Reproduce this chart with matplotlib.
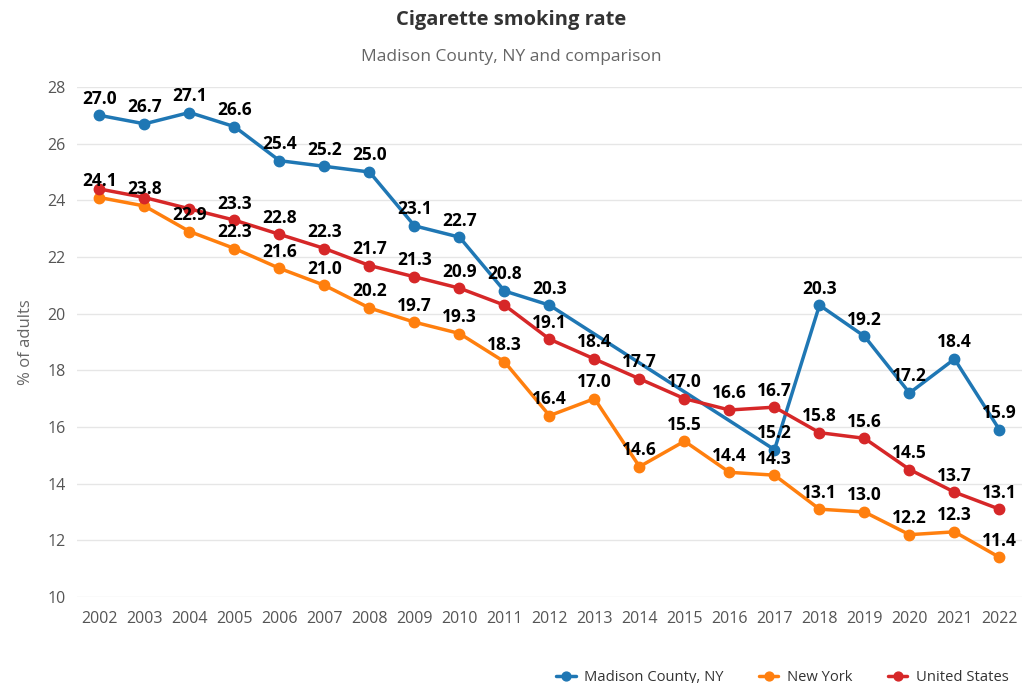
import numpy as np
import matplotlib.pyplot as plt

years = list(range(2002, 2023))
madison = [27.0, 26.7, 27.1, 26.6, 25.4, 25.2, 25.0, 23.1, 22.7, 20.8, 20.3,
           np.nan, np.nan, np.nan, np.nan, 15.2, 20.3, 19.2, 17.2, 18.4, 15.9]
new_york = [24.1, 23.8, 22.9, 22.3, 21.6, 21.0, 20.2, 19.7, 19.3, 18.3, 16.4,
            17.0, 14.6, 15.5, 14.4, 14.3, 13.1, 13.0, 12.2, 12.3, 11.4]
united_states = [24.4, 24.1, 23.7, 23.3, 22.8, 22.3, 21.7, 21.3, 20.9, 20.3, 19.1,
                 18.4, 17.7, 17.0, 16.6, 16.7, 15.8, 15.6, 14.5, 13.7, 13.1]

series = [
    ("Madison County, NY", madison, "#1f77b4"),
    ("New York", new_york, "#ff7f0e"),
    ("United States", united_states, "#d62728"),
]
# labels the original chart hides because they overlap others
hidden = {("United States", 2002), ("United States", 2003),
          ("United States", 2004), ("United States", 2011)}

plt.rcParams['font.family'] = ['Open Sans', 'DejaVu Sans']

fig = plt.figure(figsize=(10.22, 6.83), dpi=100)
ax = fig.add_axes([77 / 1022, 1 - 597 / 683, 945 / 1022, 510 / 683])

for name, vals, col in series:
    x = np.array(years)
    y = np.array(vals, dtype=float)
    ok = ~np.isnan(y)
    ax.plot(x[ok], y[ok], color=col, lw=2.5, marker="o", ms=7.5, label=name,
            zorder=3, solid_capstyle="round")
    for xi, yi in zip(x[ok], y[ok]):
        if (name, int(xi)) in hidden:
            continue
        ax.annotate(f"{yi:.1f}", (xi, yi), xytext=(0, 5.5), textcoords="offset points",
                    ha="center", va="bottom", fontsize=12.5, fontweight="bold",
                    color="black", zorder=5)

ax.set_xlim(2001.5, 2022.5)
ax.set_ylim(10, 28)
ax.set_yticks(range(10, 29, 2))
ax.set_xticks(years)
ax.tick_params(axis="both", length=0, labelsize=11.5, colors="#555555")
ax.tick_params(axis="x", pad=10)
ax.tick_params(axis="y", pad=8)
ax.grid(axis="y", color="#e6e6e6", lw=1)
ax.set_axisbelow(True)
for s in ax.spines.values():
    s.set_visible(False)
ax.set_ylabel("% of adults", fontsize=12, color="#666666", labelpad=10)

fig.text(0.5, 1 - 20 / 683, "Cigarette smoking rate", ha="center", va="center",
         fontsize=14.5, fontweight="bold", color="#333333")
fig.text(0.5, 1 - 57 / 683, "Madison County, NY and comparison", ha="center",
         va="center", fontsize=12.5, color="#666666")

fig.legend(loc="lower right", bbox_to_anchor=(1.0, -0.022), ncol=3, frameon=False,
           fontsize=10.6, labelcolor="#333333", handlelength=1.3, columnspacing=2.4,
           handletextpad=0.6, markerscale=0.85)

fig.savefig("out.png", dpi=100)
